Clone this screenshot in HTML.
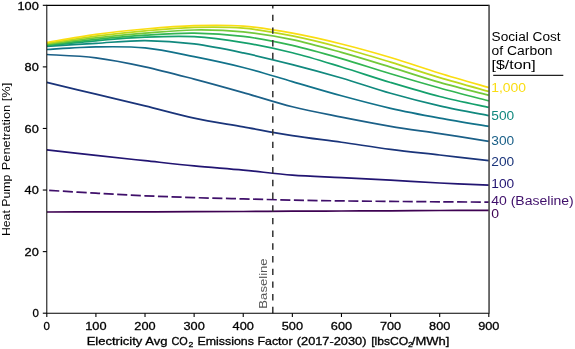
<!DOCTYPE html>
<html><head><meta charset="utf-8"><title>Heat Pump Penetration vs Emissions Factor</title>
<style>
html,body{margin:0;padding:0;background:#fff;}
body{width:575px;height:349px;overflow:hidden;font-family:"Liberation Sans",sans-serif;}
svg{display:block;will-change:transform;}
text{stroke-width:0.3px;}
</style></head><body>
<svg width="575" height="349" viewBox="0 0 575 349">
<defs><clipPath id="ax"><rect x="46.80" y="5.30" width="442.00" height="307.90"/></clipPath></defs>
<g clip-path="url(#ax)">
<path d="M46.80,212.00 C54.99,211.98 79.54,211.93 95.91,211.90 C112.28,211.87 128.65,211.83 145.02,211.80 C161.39,211.77 177.76,211.75 194.13,211.70 C210.50,211.65 226.87,211.58 243.24,211.50 C259.61,211.42 275.99,211.28 292.36,211.20 C308.73,211.12 325.10,211.07 341.47,211.00 C357.84,210.93 374.21,210.88 390.58,210.80 C406.95,210.72 423.32,210.58 439.69,210.50 C456.06,210.42 480.61,210.33 488.80,210.30" stroke="#3e0252" stroke-width="1.70" fill="none"/>
<path d="M46.80,190.20 C54.99,190.70 79.54,192.27 95.91,193.20 C112.28,194.13 128.65,195.07 145.02,195.80 C161.39,196.53 177.76,197.08 194.13,197.60 C210.50,198.12 226.87,198.48 243.24,198.90 C259.61,199.32 275.99,199.77 292.36,200.10 C308.73,200.43 325.10,200.68 341.47,200.90 C357.84,201.12 374.21,201.25 390.58,201.40 C406.95,201.55 423.32,201.68 439.69,201.80 C456.06,201.92 480.61,202.05 488.80,202.10" stroke="#3f0f6a" stroke-width="1.70" fill="none" stroke-dasharray="10.1 3.5" stroke-dashoffset="11.1"/>
<path d="M46.80,149.80 C54.99,150.73 79.54,153.58 95.91,155.40 C112.28,157.22 128.65,158.95 145.02,160.70 C161.39,162.45 177.76,164.33 194.13,165.90 C210.50,167.47 226.87,168.57 243.24,170.10 C259.61,171.63 275.99,173.85 292.36,175.10 C308.73,176.35 325.10,176.75 341.47,177.60 C357.84,178.45 374.21,179.30 390.58,180.20 C406.95,181.10 423.32,182.17 439.69,183.00 C456.06,183.83 480.61,184.83 488.80,185.20" stroke="#221572" stroke-width="1.70" fill="none"/>
<path d="M46.80,82.30 C54.99,84.28 79.54,90.27 95.91,94.20 C112.28,98.13 128.65,101.92 145.02,105.90 C161.39,109.88 177.76,114.61 194.13,118.10 C210.50,121.59 226.87,123.93 243.24,126.85 C259.61,129.77 275.99,133.03 292.36,135.60 C308.73,138.17 325.10,139.95 341.47,142.25 C357.84,144.55 374.21,147.28 390.58,149.40 C406.95,151.53 423.32,153.13 439.69,155.00 C456.06,156.87 480.61,159.67 488.80,160.60" stroke="#1a347a" stroke-width="1.70" fill="none"/>
<path d="M46.80,54.50 C54.99,55.05 79.54,55.75 95.91,57.80 C112.28,59.85 128.65,63.25 145.02,66.80 C161.39,70.35 177.76,74.80 194.13,79.10 C210.50,83.40 226.87,87.98 243.24,92.60 C259.61,97.22 275.99,102.72 292.36,106.80 C308.73,110.88 325.10,113.85 341.47,117.10 C357.84,120.35 374.21,123.55 390.58,126.30 C406.95,129.05 423.32,131.10 439.69,133.60 C456.06,136.10 480.61,140.02 488.80,141.30" stroke="#1b6088" stroke-width="1.70" fill="none"/>
<path d="M46.80,49.50 C54.99,49.07 79.54,47.17 95.91,46.90 C112.28,46.63 128.65,46.28 145.02,47.90 C161.39,49.52 177.76,53.34 194.13,56.60 C210.50,59.86 226.87,63.28 243.24,67.45 C259.61,71.62 275.99,76.88 292.36,81.60 C308.73,86.32 325.10,91.30 341.47,95.75 C357.84,100.20 374.21,104.58 390.58,108.30 C406.95,112.02 423.32,115.07 439.69,118.10 C456.06,121.12 480.61,125.06 488.80,126.45" stroke="#12728a" stroke-width="1.70" fill="none"/>
<path d="M46.80,46.40 C54.99,45.88 79.54,44.27 95.91,43.30 C112.28,42.33 128.65,40.50 145.02,40.60 C161.39,40.70 177.76,41.85 194.13,43.90 C210.50,45.95 226.87,49.45 243.24,52.90 C259.61,56.35 275.99,60.42 292.36,64.60 C308.73,68.78 325.10,73.22 341.47,78.00 C357.84,82.78 374.21,88.65 390.58,93.30 C406.95,97.95 423.32,102.17 439.69,105.90 C456.06,109.63 480.61,114.07 488.80,115.70" stroke="#11897e" stroke-width="1.70" fill="none"/>
<path d="M46.80,45.70 C54.99,44.88 79.54,42.22 95.91,40.80 C112.28,39.38 128.65,37.88 145.02,37.20 C161.39,36.52 177.76,35.80 194.13,36.70 C210.50,37.60 226.87,39.92 243.24,42.60 C259.61,45.28 275.99,48.73 292.36,52.80 C308.73,56.87 325.10,62.05 341.47,67.00 C357.84,71.95 374.21,77.58 390.58,82.50 C406.95,87.42 423.32,92.35 439.69,96.50 C456.06,100.65 480.61,105.58 488.80,107.40" stroke="#15a06c" stroke-width="1.70" fill="none"/>
<path d="M46.80,45.00 C54.99,44.07 79.54,41.03 95.91,39.40 C112.28,37.77 128.65,36.25 145.02,35.20 C161.39,34.15 177.76,32.90 194.13,33.10 C210.50,33.30 226.87,34.35 243.24,36.40 C259.61,38.45 275.99,41.70 292.36,45.40 C308.73,49.10 325.10,53.87 341.47,58.60 C357.84,63.33 374.21,68.90 390.58,73.80 C406.95,78.70 423.32,83.48 439.69,88.00 C456.06,92.52 480.61,98.75 488.80,100.90" stroke="#33b553" stroke-width="1.70" fill="none"/>
<path d="M46.80,44.20 C54.99,43.15 79.54,39.73 95.91,37.90 C112.28,36.07 128.65,34.52 145.02,33.20 C161.39,31.88 177.76,30.22 194.13,30.00 C210.50,29.78 226.87,30.30 243.24,31.90 C259.61,33.50 275.99,36.18 292.36,39.60 C308.73,43.02 325.10,47.82 341.47,52.40 C357.84,56.98 374.21,62.10 390.58,67.10 C406.95,72.10 423.32,77.68 439.69,82.40 C456.06,87.12 480.61,93.23 488.80,95.40" stroke="#72c93a" stroke-width="1.70" fill="none"/>
<path d="M46.80,43.30 C54.99,42.12 79.54,38.27 95.91,36.20 C112.28,34.13 128.65,32.37 145.02,30.90 C161.39,29.43 177.76,27.85 194.13,27.40 C210.50,26.95 226.87,26.78 243.24,28.20 C259.61,29.62 275.99,32.65 292.36,35.90 C308.73,39.15 325.10,43.33 341.47,47.70 C357.84,52.07 374.21,57.12 390.58,62.10 C406.95,67.08 423.32,72.72 439.69,77.60 C456.06,82.48 480.61,89.10 488.80,91.40" stroke="#bad81c" stroke-width="1.70" fill="none"/>
<path d="M46.80,42.40 C54.99,41.07 79.54,36.63 95.91,34.40 C112.28,32.17 128.65,30.47 145.02,29.00 C161.39,27.53 177.76,26.08 194.13,25.60 C210.50,25.12 226.87,24.83 243.24,26.10 C259.61,27.37 275.99,30.22 292.36,33.20 C308.73,36.18 325.10,39.95 341.47,44.00 C357.84,48.05 374.21,52.63 390.58,57.50 C406.95,62.37 423.32,68.18 439.69,73.20 C456.06,78.22 480.61,85.20 488.80,87.60" stroke="#fadd12" stroke-width="1.70" fill="none"/>
</g>
<line x1="272.8" y1="313.2" x2="272.8" y2="5.3" stroke="#333" stroke-width="1.5" stroke-dasharray="6.4 6.3"/>
<line x1="46.30" y1="5.30" x2="488.80" y2="5.30" stroke="#000" stroke-width="1.15"/>
<line x1="46.30" y1="313.20" x2="488.80" y2="313.20" stroke="#000" stroke-width="1.15"/>
<line x1="46.80" y1="5.30" x2="46.80" y2="313.20" stroke="#000" stroke-width="1.0"/>
<line x1="489.05" y1="4.80" x2="489.05" y2="313.70" stroke="#222" stroke-width="1.3"/>
<line x1="42.80" y1="313.20" x2="46.80" y2="313.20" stroke="#000" stroke-width="1.1"/>
<line x1="42.80" y1="251.62" x2="46.80" y2="251.62" stroke="#000" stroke-width="1.1"/>
<line x1="42.80" y1="190.04" x2="46.80" y2="190.04" stroke="#000" stroke-width="1.1"/>
<line x1="42.80" y1="128.46" x2="46.80" y2="128.46" stroke="#000" stroke-width="1.1"/>
<line x1="42.80" y1="66.88" x2="46.80" y2="66.88" stroke="#000" stroke-width="1.1"/>
<line x1="42.80" y1="5.30" x2="46.80" y2="5.30" stroke="#000" stroke-width="1.1"/>
<line x1="46.80" y1="313.20" x2="46.80" y2="317.00" stroke="#000" stroke-width="1.1"/>
<line x1="95.91" y1="313.20" x2="95.91" y2="317.00" stroke="#000" stroke-width="1.1"/>
<line x1="145.02" y1="313.20" x2="145.02" y2="317.00" stroke="#000" stroke-width="1.1"/>
<line x1="194.13" y1="313.20" x2="194.13" y2="317.00" stroke="#000" stroke-width="1.1"/>
<line x1="243.24" y1="313.20" x2="243.24" y2="317.00" stroke="#000" stroke-width="1.1"/>
<line x1="292.36" y1="313.20" x2="292.36" y2="317.00" stroke="#000" stroke-width="1.1"/>
<line x1="341.47" y1="313.20" x2="341.47" y2="317.00" stroke="#000" stroke-width="1.1"/>
<line x1="390.58" y1="313.20" x2="390.58" y2="317.00" stroke="#000" stroke-width="1.1"/>
<line x1="439.69" y1="313.20" x2="439.69" y2="317.00" stroke="#000" stroke-width="1.1"/>
<line x1="488.80" y1="313.20" x2="488.80" y2="317.00" stroke="#000" stroke-width="1.1"/>
<text x="38.80" y="317.40" font-size="11.8" text-anchor="end" textLength="6.40" lengthAdjust="spacingAndGlyphs" fill="#000" stroke="#000" font-family="'Liberation Sans', sans-serif">0</text>
<text x="38.80" y="255.82" font-size="11.8" text-anchor="end" textLength="14.20" lengthAdjust="spacingAndGlyphs" fill="#000" stroke="#000" font-family="'Liberation Sans', sans-serif">20</text>
<text x="38.80" y="194.24" font-size="11.8" text-anchor="end" textLength="14.20" lengthAdjust="spacingAndGlyphs" fill="#000" stroke="#000" font-family="'Liberation Sans', sans-serif">40</text>
<text x="38.80" y="132.66" font-size="11.8" text-anchor="end" textLength="14.20" lengthAdjust="spacingAndGlyphs" fill="#000" stroke="#000" font-family="'Liberation Sans', sans-serif">60</text>
<text x="38.80" y="71.08" font-size="11.8" text-anchor="end" textLength="14.20" lengthAdjust="spacingAndGlyphs" fill="#000" stroke="#000" font-family="'Liberation Sans', sans-serif">80</text>
<text x="38.80" y="9.50" font-size="11.8" text-anchor="end" textLength="21.30" lengthAdjust="spacingAndGlyphs" fill="#000" stroke="#000" font-family="'Liberation Sans', sans-serif">100</text>
<text x="46.80" y="329.70" font-size="11.8" text-anchor="middle" textLength="6.40" lengthAdjust="spacingAndGlyphs" fill="#000" stroke="#000" font-family="'Liberation Sans', sans-serif">0</text>
<text x="95.91" y="329.70" font-size="11.8" text-anchor="middle" textLength="21.30" lengthAdjust="spacingAndGlyphs" fill="#000" stroke="#000" font-family="'Liberation Sans', sans-serif">100</text>
<text x="145.02" y="329.70" font-size="11.8" text-anchor="middle" textLength="21.30" lengthAdjust="spacingAndGlyphs" fill="#000" stroke="#000" font-family="'Liberation Sans', sans-serif">200</text>
<text x="194.13" y="329.70" font-size="11.8" text-anchor="middle" textLength="21.30" lengthAdjust="spacingAndGlyphs" fill="#000" stroke="#000" font-family="'Liberation Sans', sans-serif">300</text>
<text x="243.24" y="329.70" font-size="11.8" text-anchor="middle" textLength="21.30" lengthAdjust="spacingAndGlyphs" fill="#000" stroke="#000" font-family="'Liberation Sans', sans-serif">400</text>
<text x="292.36" y="329.70" font-size="11.8" text-anchor="middle" textLength="21.30" lengthAdjust="spacingAndGlyphs" fill="#000" stroke="#000" font-family="'Liberation Sans', sans-serif">500</text>
<text x="341.47" y="329.70" font-size="11.8" text-anchor="middle" textLength="21.30" lengthAdjust="spacingAndGlyphs" fill="#000" stroke="#000" font-family="'Liberation Sans', sans-serif">600</text>
<text x="390.58" y="329.70" font-size="11.8" text-anchor="middle" textLength="21.30" lengthAdjust="spacingAndGlyphs" fill="#000" stroke="#000" font-family="'Liberation Sans', sans-serif">700</text>
<text x="439.69" y="329.70" font-size="11.8" text-anchor="middle" textLength="21.30" lengthAdjust="spacingAndGlyphs" fill="#000" stroke="#000" font-family="'Liberation Sans', sans-serif">800</text>
<text x="488.80" y="329.70" font-size="11.8" text-anchor="middle" textLength="21.30" lengthAdjust="spacingAndGlyphs" fill="#000" stroke="#000" font-family="'Liberation Sans', sans-serif">900</text>
<text x="86.70" y="345.20" font-size="11" textLength="80.80" lengthAdjust="spacingAndGlyphs" fill="#000" stroke="#000" font-family="'Liberation Sans', sans-serif">Electricity Avg</text>
<text x="171.40" y="345.20" font-size="11" textLength="16.30" lengthAdjust="spacingAndGlyphs" fill="#000" stroke="#000" font-family="'Liberation Sans', sans-serif">CO</text>
<text x="188.40" y="346.70" font-size="7.6" textLength="4.80" lengthAdjust="spacingAndGlyphs" fill="#000" stroke="#000" font-family="'Liberation Sans', sans-serif">2</text>
<text x="197.40" y="345.20" font-size="11" textLength="95.20" lengthAdjust="spacingAndGlyphs" fill="#000" stroke="#000" font-family="'Liberation Sans', sans-serif">Emissions Factor</text>
<text x="296.80" y="345.20" font-size="11" textLength="69.60" lengthAdjust="spacingAndGlyphs" fill="#000" stroke="#000" font-family="'Liberation Sans', sans-serif">(2017-2030)</text>
<text x="371.20" y="345.20" font-size="11" textLength="37.00" lengthAdjust="spacingAndGlyphs" fill="#000" stroke="#000" font-family="'Liberation Sans', sans-serif">[lbsCO</text>
<text x="408.00" y="346.70" font-size="7.6" textLength="4.70" lengthAdjust="spacingAndGlyphs" fill="#000" stroke="#000" font-family="'Liberation Sans', sans-serif">2</text>
<text x="411.80" y="345.20" font-size="11" textLength="37.60" lengthAdjust="spacingAndGlyphs" fill="#000" stroke="#000" font-family="'Liberation Sans', sans-serif">/MWh]</text>
<text transform="translate(9.60,236.10) rotate(-90)" x="0" y="0" font-size="11" textLength="61.50" lengthAdjust="spacingAndGlyphs" fill="#000" stroke="none" font-family="'Liberation Sans', sans-serif">Heat Pump</text>
<text transform="translate(9.60,170.20) rotate(-90)" x="0" y="0" font-size="11" textLength="87.40" lengthAdjust="spacingAndGlyphs" fill="#000" stroke="none" font-family="'Liberation Sans', sans-serif">Penetration [%]</text>
<text transform="translate(266.9,283.5) rotate(-90)" x="0" y="0" font-size="10" text-anchor="middle" textLength="50.3" lengthAdjust="spacingAndGlyphs" fill="#555" stroke="none" font-family="'Liberation Sans', sans-serif">Baseline</text>
<text x="491.60" y="40.70" font-size="12" textLength="69.00" lengthAdjust="spacingAndGlyphs" fill="#000" stroke="none" font-family="'Liberation Sans', sans-serif">Social Cost</text>
<text x="491.60" y="54.80" font-size="12" textLength="61.00" lengthAdjust="spacingAndGlyphs" fill="#000" stroke="none" font-family="'Liberation Sans', sans-serif">of Carbon</text>
<text x="491.60" y="69.30" font-size="12" textLength="44.20" lengthAdjust="spacingAndGlyphs" fill="#000" stroke="none" font-family="'Liberation Sans', sans-serif">[$/ton]</text>
<line x1="493.2" y1="75.4" x2="563.3" y2="75.4" stroke="#222" stroke-width="1.3"/>
<text x="491.25" y="91.60" font-size="12" textLength="34.80" lengthAdjust="spacingAndGlyphs" fill="#fadd12" stroke="none" font-family="'Liberation Sans', sans-serif">1,000</text>
<text x="491.25" y="119.90" font-size="12" textLength="22.90" lengthAdjust="spacingAndGlyphs" fill="#11897e" stroke="none" font-family="'Liberation Sans', sans-serif">500</text>
<text x="491.25" y="144.80" font-size="12" textLength="22.90" lengthAdjust="spacingAndGlyphs" fill="#1b6088" stroke="none" font-family="'Liberation Sans', sans-serif">300</text>
<text x="491.25" y="165.50" font-size="12" textLength="22.90" lengthAdjust="spacingAndGlyphs" fill="#1a347a" stroke="none" font-family="'Liberation Sans', sans-serif">200</text>
<text x="491.25" y="188.40" font-size="12" textLength="22.90" lengthAdjust="spacingAndGlyphs" fill="#221572" stroke="none" font-family="'Liberation Sans', sans-serif">100</text>
<text x="491.25" y="205.00" font-size="12" textLength="82.50" lengthAdjust="spacingAndGlyphs" fill="#3f0f6a" stroke="none" font-family="'Liberation Sans', sans-serif">40 (Baseline)</text>
<text x="491.25" y="218.20" font-size="12" textLength="7.80" lengthAdjust="spacingAndGlyphs" fill="#3e0252" stroke="none" font-family="'Liberation Sans', sans-serif">0</text>
</svg>
</body></html>
